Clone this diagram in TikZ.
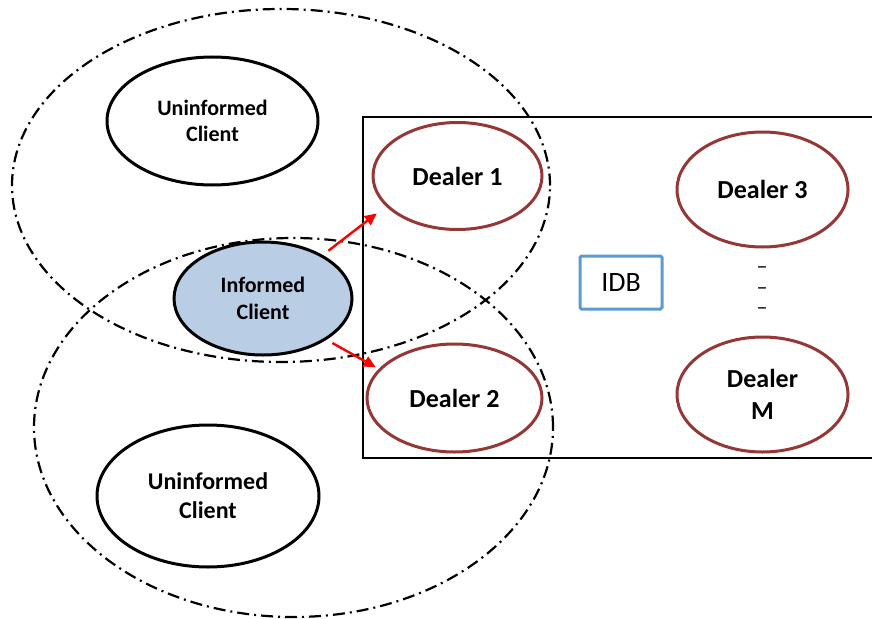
\documentclass[tikz,border=0pt]{standalone}
\usepackage{fontspec}
\setmainfont{Carlito}
\usetikzlibrary{shapes.geometric,arrows.meta}
\definecolor{dealerred}{RGB}{149,55,53}
\definecolor{infoblue}{RGB}{185,205,229}
\definecolor{idbblue}{RGB}{91,155,213}
\begin{document}
\begin{tikzpicture}[x=1pt,y=-1pt,
  client/.style={ellipse,draw=black,line width=3pt,fill=white,inner sep=0pt,align=center,font=\fontsize{22}{26.5}\selectfont\bfseries},
  dealer/.style={ellipse,draw=dealerred,line width=3pt,fill=white,inner sep=0pt,align=center,font=\fontsize{26}{32}\selectfont\bfseries},
  group/.style={ellipse,draw=black,line width=2.2pt,dash pattern=on 12pt off 5pt on 2pt off 5pt,inner sep=0pt},
  arr/.style={draw=red,line width=2.4pt,-{Triangle[length=12pt,width=11pt]}},
  dashmark/.style={inner sep=0pt,font=\fontsize{22}{26}\selectfont},
]
\fill[white] (0,0) rectangle (872,618);
\useasboundingbox (0,0) rectangle (872,618);
\node[draw=black,line width=1.5pt,minimum width=512pt,minimum height=341pt,inner sep=0pt] (market) at (619,287.5) {};
\node[group,minimum width=538pt,minimum height=353pt] (gtop) at (281,185.5) {};
\node[group,minimum width=519pt,minimum height=379pt] (gbot) at (293.5,427.5) {};
\node[client,minimum width=211pt,minimum height=128pt] (ut) at (212.5,121) {Uninformed\\Client};
\node[client,fill=infoblue,minimum width=178pt,minimum height=113pt] (inf) at (263,298.5) {Informed\\Client};
\node[client,font=\fontsize{24}{29}\selectfont\bfseries,minimum width=222pt,minimum height=142pt] (ub) at (208,496) {Uninformed\\Client};
\node[dealer,minimum width=169pt,minimum height=107pt] (d1) at (457.5,176) {Dealer 1};
\node[dealer,minimum width=175pt,minimum height=108pt] (d2) at (454.5,398) {Dealer 2};
\node[dealer,minimum width=171pt,minimum height=115pt] (d3) at (762.5,189.5) {Dealer 3};
\node[dealer,minimum width=171pt,minimum height=115pt] (dm) at (762.5,394.5) {Dealer\\M};
\node[draw=idbblue,line width=3pt,rounded corners=1.5pt,minimum width=82pt,minimum height=53pt,inner sep=0pt,font=\fontsize{28}{34}\selectfont] (idb) at (621,282.5) {IDB};
\node[dashmark] (m1) at (762,270) {–};
\node[dashmark] (m2) at (762,291) {–};
\node[dashmark] (m3) at (762,311) {–};
\draw[arr,shorten <=7pt,shorten >=11.5pt] (inf.36) -- (d1.203);
\draw[arr,shorten <=6.6pt,shorten >=3.4pt] (inf.-33) -- (d2.159);
\end{tikzpicture}
\end{document}
